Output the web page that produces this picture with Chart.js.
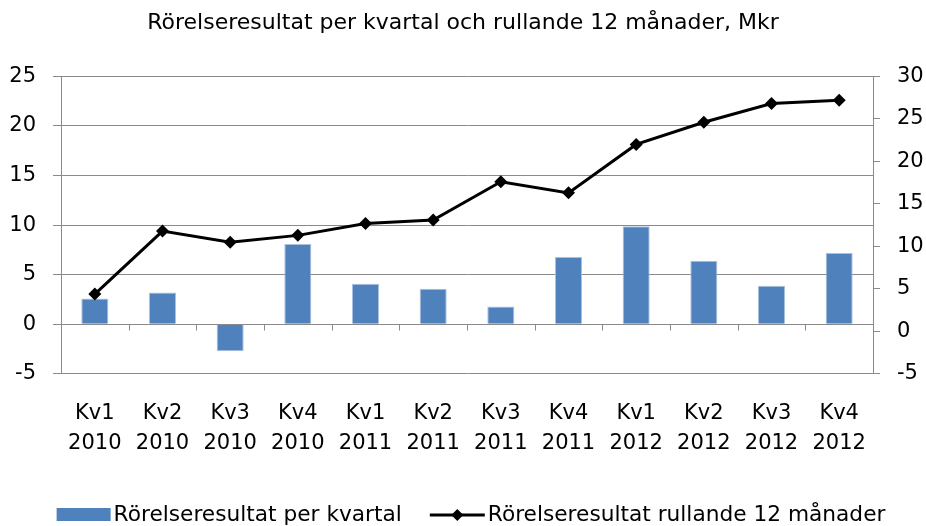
<!DOCTYPE html>
<html>
<head>
<meta charset="utf-8">
<script src="https://cdn.jsdelivr.net/npm/chart.js"></script>
<style>
  html, body { margin: 0; padding: 0; background: #fff; }
</style>
</head>
<body>
<canvas id="myChart" width="926" height="526"></canvas>
<script>
// data (Mkr)
const quarters = [
  ['Kv1', '2010'], ['Kv2', '2010'], ['Kv3', '2010'], ['Kv4', '2010'],
  ['Kv1', '2011'], ['Kv2', '2011'], ['Kv3', '2011'], ['Kv4', '2011'],
  ['Kv1', '2012'], ['Kv2', '2012'], ['Kv3', '2012'], ['Kv4', '2012']
];
const perQuarter = [2.6, 3.2, -2.7, 8.1, 4.1, 3.6, 1.8, 6.8, 9.9, 6.4, 3.9, 7.2];
const rolling12 = [4.4, 11.8, 10.5, 11.3, 12.7, 13.1, 17.6, 16.3, 22.0, 24.6, 26.8, 27.2];

const barLabel = 'Rörelseresultat per kvartal';
const lineLabel = 'Rörelseresultat rullande 12 månader';
const titleText = 'Rörelseresultat per kvartal och rullande 12 månader, Mkr';

const font = '"DejaVu Sans"';
const gridGray = '#8a8a8a';
const barBlue = '#4f81bd';

// legend drawn at the bottom: bar swatch, then line with diamond
const bottomLegend = {
  id: 'bottomLegend',
  afterDraw(chart) {
    const ctx = chart.ctx;
    ctx.save();
    ctx.font = '21.7px ' + font;
    ctx.textBaseline = 'middle';
    let w1 = ctx.measureText(barLabel).width;
    let w2 = ctx.measureText(lineLabel).width;
    let total = 54 + 3 + w1 + 28 + 55 + 3 + w2;
    let x = 471 - total / 2;
    let y = 515;
    ctx.fillStyle = barBlue;
    ctx.fillRect(x, y - 7, 54, 13);
    x += 57;
    ctx.fillStyle = '#000';
    ctx.fillText(barLabel, x, y);
    x += w1 + 28;
    ctx.strokeStyle = '#000';
    ctx.lineWidth = 3;
    ctx.beginPath();
    ctx.moveTo(x, y);
    ctx.lineTo(x + 55, y);
    ctx.stroke();
    let cx = x + 27.5;
    ctx.beginPath();
    ctx.moveTo(cx, y - 6);
    ctx.lineTo(cx + 6, y);
    ctx.lineTo(cx, y + 6);
    ctx.lineTo(cx - 6, y);
    ctx.closePath();
    ctx.fill();
    x += 58;
    ctx.fillText(lineLabel, x, y);
    ctx.restore();
  }
};

// small category tick marks hanging under the zero line
const zeroTicks = {
  id: 'zeroTicks',
  afterDatasetsDraw(chart) {
    const xs = chart.scales.x, ys = chart.scales.y;
    const y0 = Math.round(ys.getPixelForValue(0)) + 0.5;
    const step = xs.getPixelForTick(1) - xs.getPixelForTick(0);
    const ctx = chart.ctx;
    ctx.save();
    ctx.strokeStyle = gridGray;
    ctx.lineWidth = 1;
    ctx.beginPath();
    for (let i = 0; i <= quarters.length; i++) {
      let px = i < quarters.length ? xs.getPixelForTick(i) - step / 2 : xs.right;
      px = Math.round(px) + 0.5;
      ctx.moveTo(px, y0);
      ctx.lineTo(px, y0 + 6);
    }
    ctx.stroke();
    ctx.restore();
  }
};

const ctx = document.getElementById('myChart');
new Chart(ctx, {
  type: 'bar',
  data: {
    labels: quarters,
    datasets: [
      {
        type: 'line',
        label: lineLabel,
        data: rolling12,
        yAxisID: 'y1',
        borderColor: '#000',
        backgroundColor: '#000',
        borderWidth: 3,
        tension: 0,
        pointStyle: 'rectRot',
        pointRadius: 6.5,
        pointBorderWidth: 0,
        order: 0
      },
      {
        type: 'bar',
        label: barLabel,
        data: perQuarter,
        yAxisID: 'y',
        backgroundColor: barBlue,
        borderColor: '#a9c1de',
        borderWidth: 1,
        barPercentage: 0.4,
        categoryPercentage: 1,
        order: 1
      }
    ]
  },
  options: {
    responsive: false,
    animation: false,
    layout: { padding: { left: 0, right: 0, top: 0, bottom: 42 } },
    plugins: {
      legend: { display: false },
      tooltip: { enabled: false },
      title: {
        display: true,
        text: titleText,
        color: '#000',
        font: { family: font, size: 22, weight: 'normal' },
        padding: { top: 10, bottom: 40 }
      }
    },
    scales: {
      x: {
        position: 'bottom',
        offset: true,
        grid: { display: false, drawTicks: false },
        border: { display: false },
        ticks: {
          color: '#000',
          font: { family: font, size: 21, lineHeight: 1.43 },
          padding: 25,
          maxRotation: 0,
          autoSkip: false
        }
      },
      y: {
        position: 'left',
        min: -5,
        max: 25,
        afterFit: s => { s.width = 61; },
        ticks: {
          stepSize: 5,
          color: '#000',
          font: { family: font, size: 21 },
          padding: 17
        },
        grid: { color: gridGray, tickLength: 8, lineWidth: 1 },
        border: { color: gridGray, width: 1 }
      },
      y1: {
        position: 'right',
        min: -5,
        max: 30,
        afterFit: s => { s.width = 53; },
        ticks: {
          stepSize: 5,
          color: '#000',
          font: { family: font, size: 21 },
          padding: 17
        },
        grid: { drawOnChartArea: false, color: gridGray, tickLength: 7 },
        border: { color: gridGray, width: 1 }
      }
    }
  },
  plugins: [bottomLegend, zeroTicks]
});
</script>
</body>
</html>
